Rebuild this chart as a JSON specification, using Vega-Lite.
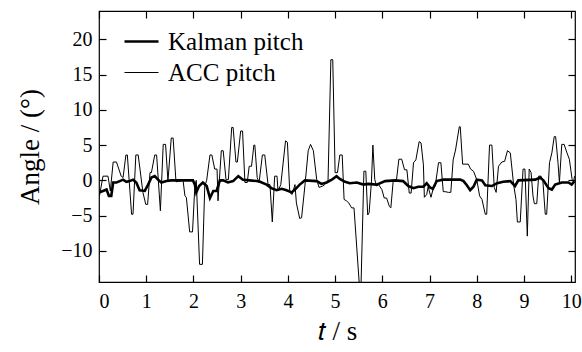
{
  "$schema": "https://vega.github.io/schema/vega-lite/v6.json",
  "width": 476,
  "height": 271,
  "autosize": {"type": "none"},
  "padding": {"left": 99, "top": 11, "right": 7, "bottom": 70},
  "background": "white",
  "config": {
    "view": {"stroke": "black", "strokeWidth": 1.2},
    "font": "Liberation Serif",
    "axis": {
      "domain": false,
      "grid": false,
      "tickColor": "black",
      "tickSize": -7,
      "tickWidth": 1.2,
      "labelColor": "black",
      "labelFont": "Liberation Serif",
      "labelFontSize": 20,
      "titleFont": "Liberation Serif",
      "titleFontSize": 27,
      "titleColor": "black",
      "titleFontWeight": "normal"
    },
    "legend": {
      "orient": "none",
      "legendX": 24,
      "legendY": 12,
      "symbolType": "stroke",
      "symbolSize": 1156,
      "symbolStrokeColor": "black",
      "labelFont": "Liberation Serif",
      "labelFontSize": 25,
      "labelColor": "black",
      "labelOffset": 8,
      "rowPadding": 0,
      "title": null
    }
  },
  "datasets": {
    "acc": [
      {"series":"ACC pitch","t":0.01,"v":-2.2},{"series":"ACC pitch","t":0.085,"v":0.6},{"series":"ACC pitch","t":0.19,"v":0.6},{"series":"ACC pitch","t":0.24,"v":-1.5},{"series":"ACC pitch","t":0.30,"v":2.6},{"series":"ACC pitch","t":0.37,"v":2.6},{"series":"ACC pitch","t":0.47,"v":0.6},{"series":"ACC pitch","t":0.51,"v":0.4},{"series":"ACC pitch","t":0.57,"v":3.6},{"series":"ACC pitch","t":0.60,"v":3.6},{"series":"ACC pitch","t":0.69,"v":-4.8},{"series":"ACC pitch","t":0.72,"v":-4.8},{"series":"ACC pitch","t":0.78,"v":3.6},{"series":"ACC pitch","t":0.83,"v":3.6},{"series":"ACC pitch","t":0.93,"v":-1.7},{"series":"ACC pitch","t":0.99,"v":-3.4},{"series":"ACC pitch","t":1.03,"v":-3.4},{"series":"ACC pitch","t":1.08,"v":1.1},{"series":"ACC pitch","t":1.11,"v":1.1},{"series":"ACC pitch","t":1.18,"v":3.6},{"series":"ACC pitch","t":1.22,"v":3.6},{"series":"ACC pitch","t":1.30,"v":-4.3},{"series":"ACC pitch","t":1.36,"v":5.1},{"series":"ACC pitch","t":1.41,"v":5.1},{"series":"ACC pitch","t":1.46,"v":-0.1},{"series":"ACC pitch","t":1.53,"v":6.0},{"series":"ACC pitch","t":1.57,"v":6.0},{"series":"ACC pitch","t":1.63,"v":-0.2},{"series":"ACC pitch","t":1.78,"v":0},{"series":"ACC pitch","t":1.82,"v":-2.2},{"series":"ACC pitch","t":1.85,"v":-2.4},{"series":"ACC pitch","t":1.92,"v":-7.3},{"series":"ACC pitch","t":1.98,"v":-7.3},{"series":"ACC pitch","t":2.03,"v":-0.8},{"series":"ACC pitch","t":2.06,"v":0},{"series":"ACC pitch","t":2.13,"v":-11.9},{"series":"ACC pitch","t":2.19,"v":-11.9},{"series":"ACC pitch","t":2.24,"v":-0.8},{"series":"ACC pitch","t":2.28,"v":0},{"series":"ACC pitch","t":2.35,"v":3.6},{"series":"ACC pitch","t":2.39,"v":3.6},{"series":"ACC pitch","t":2.45,"v":1.6},{"series":"ACC pitch","t":2.50,"v":1.6},{"series":"ACC pitch","t":2.52,"v":-2.9},{"series":"ACC pitch","t":2.59,"v":4.2},{"series":"ACC pitch","t":2.63,"v":4.2},{"series":"ACC pitch","t":2.69,"v":0.1},{"series":"ACC pitch","t":2.74,"v":0.1},{"series":"ACC pitch","t":2.81,"v":7.5},{"series":"ACC pitch","t":2.84,"v":7.5},{"series":"ACC pitch","t":2.90,"v":2.6},{"series":"ACC pitch","t":2.93,"v":2.6},{"series":"ACC pitch","t":3.00,"v":7.0},{"series":"ACC pitch","t":3.04,"v":7.0},{"series":"ACC pitch","t":3.09,"v":-0.3},{"series":"ACC pitch","t":3.14,"v":-0.3},{"series":"ACC pitch","t":3.18,"v":2.0},{"series":"ACC pitch","t":3.23,"v":2.0},{"series":"ACC pitch","t":3.28,"v":5.0},{"series":"ACC pitch","t":3.30,"v":5.0},{"series":"ACC pitch","t":3.35,"v":0.4},{"series":"ACC pitch","t":3.39,"v":-0.3},{"series":"ACC pitch","t":3.46,"v":3.6},{"series":"ACC pitch","t":3.51,"v":3.6},{"series":"ACC pitch","t":3.58,"v":-0.6},{"series":"ACC pitch","t":3.62,"v":-0.6},{"series":"ACC pitch","t":3.67,"v":-5.9},{"series":"ACC pitch","t":3.72,"v":0.6},{"series":"ACC pitch","t":3.77,"v":0.6},{"series":"ACC pitch","t":3.79,"v":-1.5},{"series":"ACC pitch","t":3.85,"v":-0.6},{"series":"ACC pitch","t":3.95,"v":5.6},{"series":"ACC pitch","t":3.99,"v":5.4},{"series":"ACC pitch","t":4.04,"v":-1.7},{"series":"ACC pitch","t":4.09,"v":-2.0},{"series":"ACC pitch","t":4.15,"v":-0.6},{"series":"ACC pitch","t":4.18,"v":-3.2},{"series":"ACC pitch","t":4.25,"v":-5.4},{"series":"ACC pitch","t":4.29,"v":-5.3},{"series":"ACC pitch","t":4.36,"v":-0.8},{"series":"ACC pitch","t":4.43,"v":4.2},{"series":"ACC pitch","t":4.48,"v":5.1},{"series":"ACC pitch","t":4.54,"v":4.2},{"series":"ACC pitch","t":4.61,"v":0.1},{"series":"ACC pitch","t":4.66,"v":-1.0},{"series":"ACC pitch","t":4.74,"v":-0.8},{"series":"ACC pitch","t":4.78,"v":-0.6},{"series":"ACC pitch","t":4.85,"v":-0.1},{"series":"ACC pitch","t":4.91,"v":17.1},{"series":"ACC pitch","t":4.95,"v":17.1},{"series":"ACC pitch","t":5.00,"v":1.1},{"series":"ACC pitch","t":5.05,"v":1.1},{"series":"ACC pitch","t":5.10,"v":3.6},{"series":"ACC pitch","t":5.15,"v":3.6},{"series":"ACC pitch","t":5.19,"v":-2.7},{"series":"ACC pitch","t":5.24,"v":-2.9},{"series":"ACC pitch","t":5.29,"v":-3.2},{"series":"ACC pitch","t":5.35,"v":-3.9},{"series":"ACC pitch","t":5.40,"v":-3.9},{"series":"ACC pitch","t":5.51,"v":-14.5},{"series":"ACC pitch","t":5.55,"v":-14.5},{"series":"ACC pitch","t":5.61,"v":1.3},{"series":"ACC pitch","t":5.65,"v":1.3},{"series":"ACC pitch","t":5.69,"v":-4.9},{"series":"ACC pitch","t":5.72,"v":-4.6},{"series":"ACC pitch","t":5.77,"v":-0.1},{"series":"ACC pitch","t":5.80,"v":5.0},{"series":"ACC pitch","t":5.84,"v":0.1},{"series":"ACC pitch","t":5.88,"v":-0.8},{"series":"ACC pitch","t":5.92,"v":-0.6},{"series":"ACC pitch","t":5.99,"v":-1.3},{"series":"ACC pitch","t":6.04,"v":-2.5},{"series":"ACC pitch","t":6.09,"v":-2.5},{"series":"ACC pitch","t":6.15,"v":-3.7},{"series":"ACC pitch","t":6.18,"v":-3.9},{"series":"ACC pitch","t":6.23,"v":-0.1},{"series":"ACC pitch","t":6.30,"v":0.1},{"series":"ACC pitch","t":6.35,"v":3.0},{"series":"ACC pitch","t":6.41,"v":3.0},{"series":"ACC pitch","t":6.47,"v":1.5},{"series":"ACC pitch","t":6.52,"v":1.5},{"series":"ACC pitch","t":6.57,"v":-1.8},{"series":"ACC pitch","t":6.61,"v":-1.8},{"series":"ACC pitch","t":6.66,"v":2.5},{"series":"ACC pitch","t":6.71,"v":2.9},{"series":"ACC pitch","t":6.78,"v":5.5},{"series":"ACC pitch","t":6.82,"v":5.3},{"series":"ACC pitch","t":6.87,"v":2.2},{"series":"ACC pitch","t":6.89,"v":-2.4},{"series":"ACC pitch","t":6.94,"v":-2.0},{"series":"ACC pitch","t":6.97,"v":-0.9},{"series":"ACC pitch","t":7.03,"v":-2.4},{"series":"ACC pitch","t":7.08,"v":-1.1},{"series":"ACC pitch","t":7.12,"v":-0.8},{"series":"ACC pitch","t":7.19,"v":2.5},{"series":"ACC pitch","t":7.24,"v":2.5},{"series":"ACC pitch","t":7.29,"v":-1.6},{"series":"ACC pitch","t":7.33,"v":-1.6},{"series":"ACC pitch","t":7.40,"v":-1.7},{"series":"ACC pitch","t":7.45,"v":-1.7},{"series":"ACC pitch","t":7.50,"v":2.9},{"series":"ACC pitch","t":7.55,"v":4.3},{"series":"ACC pitch","t":7.63,"v":7.6},{"series":"ACC pitch","t":7.65,"v":7.6},{"series":"ACC pitch","t":7.70,"v":2.3},{"series":"ACC pitch","t":7.75,"v":2.3},{"series":"ACC pitch","t":7.82,"v":2.3},{"series":"ACC pitch","t":7.87,"v":1.6},{"series":"ACC pitch","t":7.93,"v":1.3},{"series":"ACC pitch","t":8.00,"v":0.1},{"series":"ACC pitch","t":8.06,"v":-2.2},{"series":"ACC pitch","t":8.11,"v":-2.7},{"series":"ACC pitch","t":8.18,"v":-4.8},{"series":"ACC pitch","t":8.21,"v":-4.8},{"series":"ACC pitch","t":8.27,"v":5.0},{"series":"ACC pitch","t":8.32,"v":5.0},{"series":"ACC pitch","t":8.37,"v":-1.0},{"series":"ACC pitch","t":8.41,"v":-1.7},{"series":"ACC pitch","t":8.46,"v":2.0},{"series":"ACC pitch","t":8.53,"v":2.6},{"series":"ACC pitch","t":8.59,"v":2.7},{"series":"ACC pitch","t":8.65,"v":4.2},{"series":"ACC pitch","t":8.71,"v":3.9},{"series":"ACC pitch","t":8.78,"v":-0.6},{"series":"ACC pitch","t":8.83,"v":-2.7},{"series":"ACC pitch","t":8.86,"v":-5.9},{"series":"ACC pitch","t":8.92,"v":-5.9},{"series":"ACC pitch","t":8.98,"v":1.6},{"series":"ACC pitch","t":9.02,"v":1.6},{"series":"ACC pitch","t":9.07,"v":-7.9},{"series":"ACC pitch","t":9.11,"v":1.6},{"series":"ACC pitch","t":9.15,"v":1.1},{"series":"ACC pitch","t":9.19,"v":-2.2},{"series":"ACC pitch","t":9.22,"v":-3.3},{"series":"ACC pitch","t":9.27,"v":-3.3},{"series":"ACC pitch","t":9.31,"v":0.6},{"series":"ACC pitch","t":9.36,"v":0.6},{"series":"ACC pitch","t":9.40,"v":-0.1},{"series":"ACC pitch","t":9.45,"v":-4.8},{"series":"ACC pitch","t":9.48,"v":-4.8},{"series":"ACC pitch","t":9.54,"v":2.5},{"series":"ACC pitch","t":9.59,"v":3.9},{"series":"ACC pitch","t":9.64,"v":6.2},{"series":"ACC pitch","t":9.67,"v":6.2},{"series":"ACC pitch","t":9.72,"v":2.5},{"series":"ACC pitch","t":9.75,"v":-0.3},{"series":"ACC pitch","t":9.80,"v":5.1},{"series":"ACC pitch","t":9.85,"v":5.1},{"series":"ACC pitch","t":9.91,"v":3.9},{"series":"ACC pitch","t":9.96,"v":3.0},{"series":"ACC pitch","t":10.02,"v":0.1},{"series":"ACC pitch","t":10.05,"v":-0.2},{"series":"ACC pitch","t":10.07,"v":0.6}
    ],
    "kal": [
      {"series":"Kalman pitch","t":0.01,"v":-1.7},{"series":"Kalman pitch","t":0.085,"v":-1.5},{"series":"Kalman pitch","t":0.16,"v":-1.3},{"series":"Kalman pitch","t":0.21,"v":-2.2},{"series":"Kalman pitch","t":0.26,"v":-2.2},{"series":"Kalman pitch","t":0.30,"v":-0.3},{"series":"Kalman pitch","t":0.37,"v":-0.3},{"series":"Kalman pitch","t":0.44,"v":-0.1},{"series":"Kalman pitch","t":0.51,"v":0.1},{"series":"Kalman pitch","t":0.58,"v":-0.2},{"series":"Kalman pitch","t":0.65,"v":-0.1},{"series":"Kalman pitch","t":0.72,"v":0.1},{"series":"Kalman pitch","t":0.79,"v":-0.3},{"series":"Kalman pitch","t":0.86,"v":-1.4},{"series":"Kalman pitch","t":0.97,"v":-1.5},{"series":"Kalman pitch","t":1.04,"v":-0.6},{"series":"Kalman pitch","t":1.11,"v":0.4},{"series":"Kalman pitch","t":1.18,"v":0.6},{"series":"Kalman pitch","t":1.25,"v":0.1},{"series":"Kalman pitch","t":1.32,"v":-0.3},{"series":"Kalman pitch","t":1.43,"v":-0.1},{"series":"Kalman pitch","t":1.53,"v":0},{"series":"Kalman pitch","t":1.99,"v":0},{"series":"Kalman pitch","t":2.03,"v":-0.6},{"series":"Kalman pitch","t":2.06,"v":-1.7},{"series":"Kalman pitch","t":2.12,"v":-0.8},{"series":"Kalman pitch","t":2.20,"v":-0.3},{"series":"Kalman pitch","t":2.28,"v":-0.8},{"series":"Kalman pitch","t":2.35,"v":-2.5},{"series":"Kalman pitch","t":2.42,"v":-1.5},{"series":"Kalman pitch","t":2.49,"v":-1.5},{"series":"Kalman pitch","t":2.56,"v":0},{"series":"Kalman pitch","t":2.63,"v":0},{"series":"Kalman pitch","t":2.73,"v":-0.3},{"series":"Kalman pitch","t":2.84,"v":-0.1},{"series":"Kalman pitch","t":2.95,"v":0.6},{"series":"Kalman pitch","t":3.05,"v":0.1},{"series":"Kalman pitch","t":3.19,"v":0},{"series":"Kalman pitch","t":3.34,"v":-0.1},{"series":"Kalman pitch","t":3.41,"v":-0.2},{"series":"Kalman pitch","t":3.55,"v":-0.6},{"series":"Kalman pitch","t":3.65,"v":-1.1},{"series":"Kalman pitch","t":3.76,"v":-1.4},{"series":"Kalman pitch","t":3.87,"v":-1.2},{"series":"Kalman pitch","t":3.97,"v":-1.4},{"series":"Kalman pitch","t":4.08,"v":-1.7},{"series":"Kalman pitch","t":4.15,"v":-1.3},{"series":"Kalman pitch","t":4.25,"v":-0.6},{"series":"Kalman pitch","t":4.36,"v":0},{"series":"Kalman pitch","t":4.61,"v":-0.1},{"series":"Kalman pitch","t":4.71,"v":-0.5},{"series":"Kalman pitch","t":4.82,"v":-0.3},{"series":"Kalman pitch","t":4.93,"v":0.1},{"series":"Kalman pitch","t":5.03,"v":0.6},{"series":"Kalman pitch","t":5.10,"v":0.2},{"series":"Kalman pitch","t":5.21,"v":-0.2},{"series":"Kalman pitch","t":5.31,"v":-0.4},{"series":"Kalman pitch","t":5.46,"v":-0.3},{"series":"Kalman pitch","t":5.60,"v":-0.6},{"series":"Kalman pitch","t":5.70,"v":-0.5},{"series":"Kalman pitch","t":5.88,"v":-0.6},{"series":"Kalman pitch","t":6.06,"v":-0.1},{"series":"Kalman pitch","t":6.27,"v":0},{"series":"Kalman pitch","t":6.44,"v":-0.1},{"series":"Kalman pitch","t":6.55,"v":-0.8},{"series":"Kalman pitch","t":6.66,"v":-1.1},{"series":"Kalman pitch","t":6.76,"v":-0.9},{"series":"Kalman pitch","t":6.87,"v":-0.9},{"series":"Kalman pitch","t":6.94,"v":-0.4},{"series":"Kalman pitch","t":7.01,"v":-1.0},{"series":"Kalman pitch","t":7.07,"v":-1.2},{"series":"Kalman pitch","t":7.15,"v":-0.1},{"series":"Kalman pitch","t":7.29,"v":0.1},{"series":"Kalman pitch","t":7.65,"v":0.1},{"series":"Kalman pitch","t":7.72,"v":-0.1},{"series":"Kalman pitch","t":7.79,"v":-0.7},{"series":"Kalman pitch","t":7.86,"v":-1.4},{"series":"Kalman pitch","t":7.93,"v":-0.9},{"series":"Kalman pitch","t":8.00,"v":0.1},{"series":"Kalman pitch","t":8.11,"v":0},{"series":"Kalman pitch","t":8.18,"v":-0.7},{"series":"Kalman pitch","t":8.32,"v":-0.8},{"series":"Kalman pitch","t":8.43,"v":-0.4},{"series":"Kalman pitch","t":8.56,"v":-0.2},{"series":"Kalman pitch","t":8.71,"v":-0.1},{"series":"Kalman pitch","t":8.81,"v":-0.8},{"series":"Kalman pitch","t":8.88,"v":0},{"series":"Kalman pitch","t":9.24,"v":0.1},{"series":"Kalman pitch","t":9.34,"v":0.4},{"series":"Kalman pitch","t":9.41,"v":0},{"series":"Kalman pitch","t":9.52,"v":-1.1},{"series":"Kalman pitch","t":9.59,"v":-1.3},{"series":"Kalman pitch","t":9.66,"v":-0.6},{"series":"Kalman pitch","t":9.80,"v":-0.3},{"series":"Kalman pitch","t":9.94,"v":-0.3},{"series":"Kalman pitch","t":10.01,"v":-0.6},{"series":"Kalman pitch","t":10.07,"v":-0.1}
    ]
  },
  "layer": [
    {
      "data": {"name": "acc"},
      "mark": {"type": "line", "color": "black", "clip": true},
      "encoding": {
        "x": {"field": "t", "type": "quantitative", "scale": {"domain": [0, 10.08], "nice": false, "zero": false},
              "axis": {"orient": "bottom", "values": [0,1,2,3,4,5,6,7,8,9,10], "title": "𝑡 / s", "labelPadding": 16, "titlePadding": 7}},
        "y": {"field": "v", "type": "quantitative", "scale": {"domain": [-14.4, 24], "nice": false, "zero": false},
              "axis": {"orient": "left", "values": [-10,-5,0,5,10,15,20], "title": "Angle / (°)", "labelPadding": 14, "titlePadding": 16}},
        "strokeWidth": {"field": "series", "type": "nominal", "scale": {"domain": ["Kalman pitch", "ACC pitch"], "range": [2.6, 1]}}
      }
    },
    {
      "data": {"name": "kal"},
      "mark": {"type": "line", "color": "black", "clip": true},
      "encoding": {
        "x": {"field": "t", "type": "quantitative", "scale": {"domain": [0, 10.08], "nice": false, "zero": false},
              "axis": {"orient": "top", "values": [0,1,2,3,4,5,6,7,8,9,10], "labels": false, "title": null}},
        "y": {"field": "v", "type": "quantitative", "scale": {"domain": [-14.4, 24], "nice": false, "zero": false},
              "axis": {"orient": "right", "values": [-10,-5,0,5,10,15,20], "labels": false, "title": null}},
        "strokeWidth": {"field": "series", "type": "nominal", "scale": {"domain": ["Kalman pitch", "ACC pitch"], "range": [2.6, 1]}}
      }
    }
  ],
  "resolve": {"axis": {"x": "independent", "y": "independent"}}
}
